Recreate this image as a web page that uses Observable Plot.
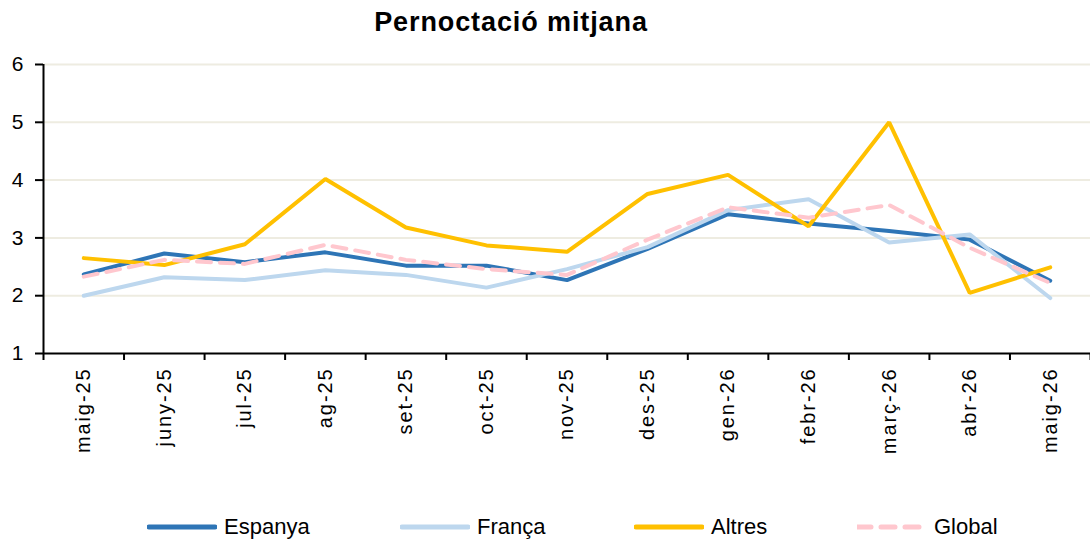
<!DOCTYPE html>
<html>
<head>
<meta charset="utf-8">
<script src="https://cdn.jsdelivr.net/npm/d3@7"></script>
<script src="https://cdn.jsdelivr.net/npm/@observablehq/plot@0.6"></script>
<style>
  html, body { margin: 0; padding: 0; background: #fff; }
  body { width: 1090px; height: 544px; overflow: hidden; font-family: "Liberation Sans", Arial, sans-serif; color: #000; }
  #title { height: 44px; line-height: 44px; font-weight: bold; font-size: 27px; letter-spacing: 0.9px; text-align: center; padding-right: 68px; box-sizing: border-box; width: 1090px; }
  #legend { position: relative; height: 34px; width: 1090px; }
  .item { position: absolute; top: 0; height: 34px; display: flex; align-items: center; font-size: 22px; }
  .item svg { margin-right: 7px; }
  .xlab text { letter-spacing: 1.9px; }
</style>
</head>
<body>
<div id="title">Pernoctació mitjana</div>
<div id="chart"></div>
<div id="legend"></div>
<script>
const months = ["maig-25","juny-25","jul-25","ag-25","set-25","oct-25","nov-25","des-25","gen-26","febr-26","març-26","abr-26","maig-26"];
const espanya = [2.37, 2.73, 2.58, 2.75, 2.52, 2.52, 2.27, 2.81, 3.41, 3.25, 3.12, 2.97, 2.26];
const franca  = [2.00, 2.32, 2.27, 2.44, 2.36, 2.14, 2.46, 2.84, 3.48, 3.67, 2.92, 3.06, 1.96];
const altres  = [2.65, 2.53, 2.89, 4.02, 3.18, 2.87, 2.76, 3.76, 4.09, 3.20, 5.00, 2.05, 2.49];
const global  = [2.33, 2.62, 2.55, 2.88, 2.62, 2.46, 2.36, 2.97, 3.53, 3.35, 3.57, 2.83, 2.22];
const seriesNames = ["Espanya", "França", "Altres", "Global"];
const seriesColors = ["#2E75B6", "#BDD7EE", "#FFC000", "#FFC7CE"];
const yTicks = [1, 2, 3, 4, 5, 6];
const gridTicks = [2, 3, 4, 5, 6];

const seriesValues = [espanya, franca, altres, global];
const rows = [];
seriesNames.forEach((name, s) => {
  seriesValues[s].forEach((v, i) => rows.push({series: name, i, month: months[i], value: v}));
});
const solid = rows.filter(d => d.series !== "Global");
const dashed = rows.filter(d => d.series === "Global");
const idx = d3.range(months.length);
const bounds = d3.range(months.length + 1).map(k => k - 0.5);

const chart = Plot.plot({
  width: 1090,
  height: 466,
  marginLeft: 43,
  marginRight: 0,
  marginTop: 20,
  marginBottom: 157,
  style: {fontFamily: "'Liberation Sans', Arial, sans-serif", color: "#000", background: "#fff"},
  x: {type: "linear", domain: [-0.5, months.length - 0.5]},
  y: {domain: [1, 6]},
  color: {domain: seriesNames, range: seriesColors},
  marks: [
    Plot.gridY(gridTicks, {stroke: "#EEECE1", strokeOpacity: 1, strokeWidth: 2}),
    Plot.axisY(yTicks, {tickSize: 8, tickPadding: 12, fontSize: 21, stroke: "#000", strokeWidth: 2, tickFormat: "d", label: null}),
    Plot.axisX(bounds, {tickSize: 7, tickFormat: () => "", stroke: "#000", strokeWidth: 2, label: null}),
    Plot.axisX(idx, {tickSize: 0, tickPadding: 14, tickRotate: -90, fontSize: 20, tickFormat: i => months[i], label: null, className: "xlab"}),
    Plot.ruleX([-0.5], {stroke: "#000", strokeWidth: 2}),
    Plot.ruleY([1], {stroke: "#000", strokeWidth: 2}),
    Plot.line(solid, {x: "i", y: "value", z: "series", stroke: "series", strokeWidth: 4, strokeLinejoin: "miter"}),
    Plot.line(dashed, {x: "i", y: "value", stroke: "series", strokeWidth: 4, strokeDasharray: "14,9"})
  ]
});
document.getElementById("chart").appendChild(chart);

const legendLefts = [147, 400, 634, 857];
const legend = document.getElementById("legend");
seriesNames.forEach((name, s) => {
  const item = document.createElement("div");
  item.className = "item";
  item.style.left = legendLefts[s] + "px";
  const dash = name === "Global" ? ' stroke-dasharray="14,10"' : '';
  item.innerHTML = `<svg width="70" height="8"><line x1="${name === "Global" ? 0 : 2}" y1="4" x2="68" y2="4" stroke="${seriesColors[s]}" stroke-width="5" stroke-linecap="round"${dash}/></svg><span>${name}</span>`;
  legend.appendChild(item);
});
</script>
</body>
</html>
